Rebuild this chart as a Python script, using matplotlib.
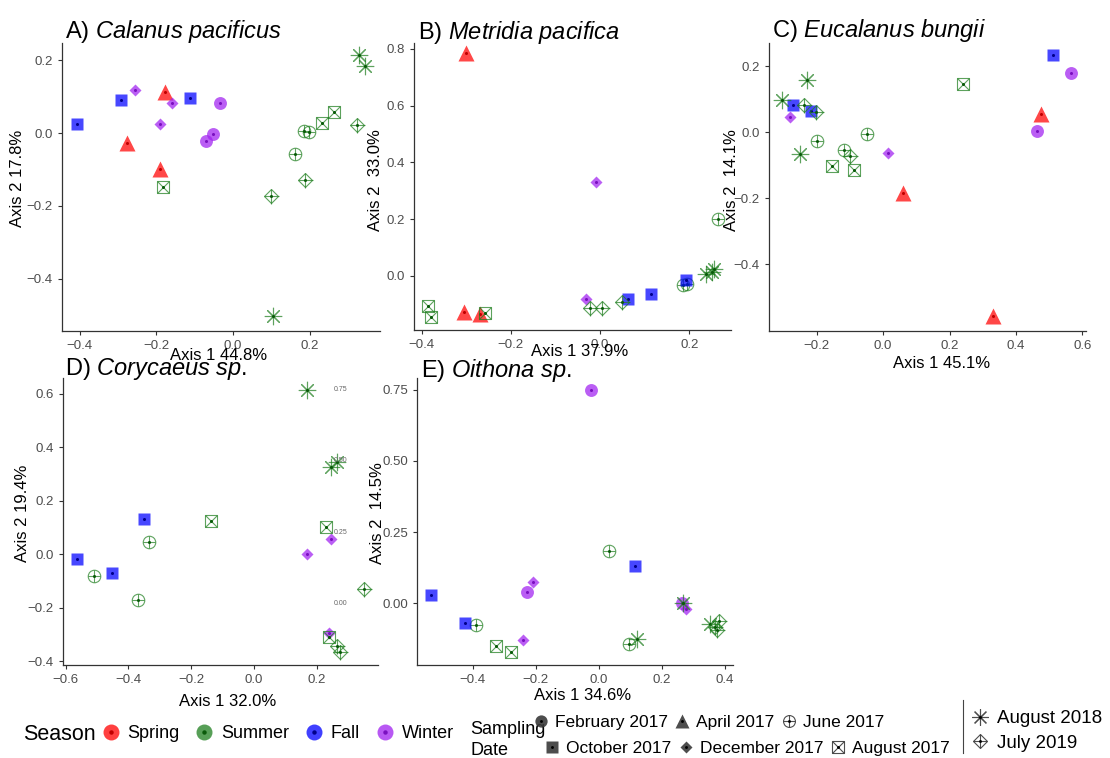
import matplotlib.pyplot as plt
from matplotlib.lines import Line2D

plt.rcParams['font.family'] = ['Liberation Sans', 'DejaVu Sans']
plt.rcParams['mathtext.fontset'] = 'custom'
plt.rcParams['mathtext.rm'] = 'Liberation Sans'
plt.rcParams['mathtext.it'] = 'Liberation Sans:italic'

W, H = 1110, 758

# sampling dates and the season each one belongs to
date_keys = ['Feb17', 'Apr17', 'Jun17', 'Oct17', 'Dec17', 'Aug17', 'Aug18', 'Jul19']
date_labels = ['February 2017', 'April 2017', 'June 2017', 'October 2017',
               'December 2017', 'August 2017', 'August 2018', 'July 2019']
date_season = ['Winter', 'Spring', 'Summer', 'Fall', 'Winter', 'Summer', 'Summer', 'Summer']
seasons = ['Spring', 'Summer', 'Fall', 'Winter']

# A) Calanus pacificus
calanus_x = [-0.407, -0.292, -0.113, -0.257, -0.159, -0.191, -0.178, -0.278, -0.190,
             -0.033, -0.052, -0.070, -0.183, 0.232, 0.263, 0.186, 0.198, 0.161,
             0.325, 0.188, 0.098, 0.329, 0.345, 0.104]
calanus_y = [0.026, 0.090, 0.096, 0.119, 0.084, 0.025, 0.112, -0.026, -0.099,
             0.084, -0.003, -0.021, -0.149, 0.027, 0.057, 0.005, 0.003, -0.057,
             0.023, -0.128, -0.172, 0.214, 0.186, -0.504]
calanus_date = ['Oct17'] * 3 + ['Dec17'] * 3 + ['Apr17'] * 3 + ['Feb17'] * 3 + \
               ['Aug17'] * 3 + ['Jun17'] * 3 + ['Jul19'] * 3 + ['Aug18'] * 3

# B) Metridia pacifica
metridia_x = [-0.301, -0.305, -0.269, -0.385, -0.380, -0.258, -0.010, -0.032,
              -0.022, 0.004, 0.050, 0.062, 0.115, 0.193, 0.264, 0.187, 0.196,
              0.238, 0.250, 0.256]
metridia_y = [0.786, -0.126, -0.134, -0.108, -0.146, -0.132, 0.332, -0.082,
              -0.114, -0.114, -0.094, -0.082, -0.065, -0.014, 0.200, -0.032, -0.029,
              0.007, 0.015, 0.024]
metridia_date = ['Apr17'] * 3 + ['Aug17'] * 3 + ['Dec17'] * 2 + ['Jul19'] * 3 + \
                ['Oct17'] * 3 + ['Jun17'] * 3 + ['Aug18'] * 3

# C) Eucalanus bungii
eucalanus_x = [0.511, -0.271, -0.218, 0.566, 0.464, 0.475, 0.060, 0.330,
               0.241, -0.155, -0.087, -0.231, -0.304, -0.251, -0.238, -0.203, -0.101,
               -0.281, 0.015, -0.198, -0.050, -0.119]
eucalanus_y = [0.234, 0.083, 0.066, 0.180, 0.005, 0.057, -0.184, -0.557,
               0.148, -0.103, -0.113, 0.160, 0.099, -0.065, 0.084, 0.061, -0.071,
               0.047, -0.061, -0.027, -0.004, -0.053]
eucalanus_date = ['Oct17'] * 3 + ['Feb17'] * 2 + ['Apr17'] * 3 + ['Aug17'] * 3 + \
                 ['Aug18'] * 3 + ['Jul19'] * 3 + ['Dec17'] * 2 + ['Jun17'] * 3

# D) Corycaeus sp.
corycaeus_x = [0.169, 0.245, 0.265, -0.350, -0.564, -0.452, -0.138, 0.229, 0.239,
               -0.334, -0.508, -0.370, 0.169, 0.244, 0.238, 0.350, 0.263, 0.273]
corycaeus_y = [0.612, 0.324, 0.343, 0.132, -0.019, -0.071, 0.125, 0.101, -0.308,
               0.045, -0.080, -0.171, 0.001, 0.056, -0.295, -0.131, -0.343, -0.364]
corycaeus_date = ['Aug18'] * 3 + ['Oct17'] * 3 + ['Aug17'] * 3 + ['Jun17'] * 3 + \
                 ['Dec17'] * 3 + ['Jul19'] * 3

# E) Oithona sp.
oithona_x = [-0.026, -0.227, 0.263, 0.033, -0.391, 0.096, 0.114, -0.532, -0.424,
             -0.209, -0.240, 0.276, -0.325, -0.278, 0.122, 0.268, 0.353,
             0.382, 0.369, 0.374]
oithona_y = [0.748, 0.041, 0.002, 0.182, -0.076, -0.143, 0.129, 0.029, -0.068,
             0.073, -0.129, -0.021, -0.152, -0.172, -0.125, 0.002, -0.073,
             -0.064, -0.084, -0.094]
oithona_date = ['Feb17'] * 3 + ['Jun17'] * 3 + ['Oct17'] * 3 + ['Dec17'] * 3 + \
               ['Aug17'] * 2 + ['Aug18'] * 3 + ['Jul19'] * 3

season_colors = {'Spring': '#ff0000', 'Summer': '#1f7f1f', 'Fall': '#0000ff', 'Winter': '#a020f0'}
dot_colors = {'Spring': '#c00000', 'Summer': '#0a5a0a', 'Fall': '#00008b', 'Winter': '#7a10c0'}

# marker, size, filled, inner marker, inner size
date_shapes = {
    'Feb17': ('o', 9.3, True, None, 0),
    'Apr17': ('^', 11, True, None, 0),
    'Jun17': ('o', 9, False, '+', 9),
    'Oct17': ('s', 9.3, True, None, 0),
    'Dec17': ('D', 6.4, True, None, 0),
    'Aug17': ('s', 9, False, 'x', 9),
    'Aug18': ((8, 2, 0), 12.5, False, None, 0),
    'Jul19': ('D', 7.6, False, '+', 10.8),
}


def px(x):
    return x / W


def py(y):
    return 1 - y / H


def shape_lines(key, color, dot, alpha=0.72, scale=1.0):
    m, ms, filled, inner, ims = date_shapes[key]
    parts = []
    if filled:
        parts.append(dict(marker=m, ms=ms * scale, mfc=color, mec='none', alpha=alpha))
    else:
        parts.append(dict(marker=m, ms=ms * scale, mfc='none', mec=color, mew=0.8, alpha=alpha))
    if inner:
        parts.append(dict(marker=inner, ms=ims * scale, mec=color, mew=0.8, alpha=alpha))
    parts.append(dict(marker='o', ms=2.2 * scale, mfc=dot, mec='none'))
    return parts


def draw_panel(ax, xs, ys, ds):
    for key, season in zip(date_keys, date_season):
        px_ = [x for x, d in zip(xs, ds) if d == key]
        py_ = [y for y, d in zip(ys, ds) if d == key]
        if not px_:
            continue
        for st in shape_lines(key, season_colors[season], dot_colors[season]):
            ax.plot(px_, py_, ls='none', **st)


fig = plt.figure(figsize=(W / 100, H / 100), dpi=100)

panels = [
    ('A', 'Calanus\\ pacificus', calanus_x, calanus_y, calanus_date,
     (62, 43, 380, 331), (-0.4465, 0.3838), (-0.544, 0.248),
     [-0.4, -0.2, 0.0, 0.2], [-0.4, -0.2, 0.0, 0.2], '%.1f',
     'Axis 1 44.8%', 'Axis 2 17.8%', (219, 355), (18, 178), (65, 38)),
    ('B', 'Metridia\\ pacifica', metridia_x, metridia_y, metridia_date,
     (414, 43, 731, 330), (-0.417, 0.2935), (-0.191, 0.821),
     [-0.4, -0.2, 0.0, 0.2], [0.0, 0.2, 0.4, 0.6, 0.8], '%.1f',
     'Axis 1 37.9%', 'Axis 2  33.0%', (580, 351), (375, 180), (418, 39)),
    ('C', 'Eucalanus\\ bungii', eucalanus_x, eucalanus_y, eucalanus_date,
     (769, 43, 1086, 331), (-0.344, 0.611), (-0.602, 0.271),
     [-0.2, 0.0, 0.2, 0.4, 0.6], [-0.4, -0.2, 0.0, 0.2], '%.1f',
     'Axis 1 45.1%', 'Axis 2  14.1%', (942, 363), (732, 180), (772, 37)),
    ('D', 'Corycaeus\\ sp.', corycaeus_x, corycaeus_y, corycaeus_date,
     (63, 378, 378, 665), (-0.608, 0.394), (-0.414, 0.658),
     [-0.6, -0.4, -0.2, 0.0, 0.2], [-0.4, -0.2, 0.0, 0.2, 0.4, 0.6], '%.1f',
     'Axis 1 32.0%', 'Axis 2 19.4%', (228, 701), (22, 513), (65, 375)),
    ('E', 'Oithona\\ sp.', oithona_x, oithona_y, oithona_date,
     (417, 378, 733, 665), (-0.577, 0.425), (-0.217, 0.791),
     [-0.4, -0.2, 0.0, 0.2, 0.4], [0.0, 0.25, 0.5, 0.75], '%.2f',
     'Axis 1 34.6%', 'Axis 2  14.5%', (583, 695), (378, 513), (421, 377)),
]

axes = {}
for (letter, species, xs, ys, ds, rect, xlim, ylim, xt, yt, yfmt,
     xlab, ylab, xlpos, ylpos, tpos) in panels:
    l, t, r, b = rect
    ax = fig.add_axes([px(l), py(b), (r - l) / W, (b - t) / H])
    draw_panel(ax, xs, ys, ds)
    ax.set_xlim(*xlim)
    ax.set_ylim(*ylim)
    ax.set_xticks(xt)
    ax.set_yticks(yt)
    ax.set_xticklabels([('%.1f' % v).replace('-', '\u2212') for v in xt])
    ax.set_yticklabels([(yfmt % v).replace('-', '\u2212') for v in yt])
    for s in ['top', 'right']:
        ax.spines[s].set_visible(False)
    for s in ['left', 'bottom']:
        ax.spines[s].set_color('#333333')
        ax.spines[s].set_linewidth(0.9)
    ax.tick_params(length=3, width=0.8, color='#333333', labelcolor='#4d4d4d', labelsize=9.5)
    ax.set_xlabel(xlab, fontsize=12, color='black')
    ax.set_ylabel(ylab, fontsize=12, color='black')
    ax.xaxis.set_label_coords((xlpos[0] - l) / (r - l), (b - xlpos[1]) / (b - t))
    ax.yaxis.set_label_coords((ylpos[0] - l) / (r - l), (b - ylpos[1]) / (b - t))
    ax.xaxis.label.set_va('center')
    ax.yaxis.label.set_va('center')
    fig.text(px(tpos[0]), py(tpos[1]), letter + ') $\\mathit{' + species + '}$',
             fontsize=17, va='baseline', ha='left')
    axes[letter] = ax

# faint copy of the E axis labels that shows through on panel D
axE = axes['E']
for v in axE.get_yticks():
    yd = axE.transData.transform((0, v))[1]
    fig.text(px(341), yd / H, '%.2f' % v, fontsize=5, color='#666666',
             ha='center', va='center')

# ---- legends ----
fig.text(px(23), py(734), 'Season', fontsize=15.5, va='center', ha='left')
season_handles = []
for s in seasons:
    season_handles.append((
        Line2D([], [], ls='none', marker='o', ms=11.5, mfc=season_colors[s], mec='none', alpha=0.75),
        Line2D([], [], ls='none', marker='o', ms=3.2, mfc=dot_colors[s], mec='none')))
fig.legend(season_handles, seasons, loc='center left', bbox_to_anchor=(px(103), py(734)),
           ncol=4, frameon=False, fontsize=13, handlelength=0.85, handletextpad=0.5,
           columnspacing=0.95, borderpad=0, borderaxespad=0)

fig.text(px(470), py(740), 'Sampling\nDate', fontsize=13, va='center', ha='left',
         linespacing=1.3)


def date_handle(key):
    return tuple(Line2D([], [], ls='none', **st)
                 for st in shape_lines(key, '#3a3a3a', 'black', alpha=0.9, scale=0.95))


row1 = ['Feb17', 'Apr17', 'Jun17']
row2 = ['Oct17', 'Dec17', 'Aug17']
for row, x0, y0 in [(row1, 533, 722), (row2, 544, 748)]:
    fig.legend([date_handle(k) for k in row],
               [date_labels[date_keys.index(k)] for k in row],
               loc='center left', bbox_to_anchor=(px(x0), py(y0)), ncol=3,
               frameon=False, fontsize=12.5, handlelength=0.9, handletextpad=0.35,
               columnspacing=0.4, borderpad=0, borderaxespad=0)

fig.add_artist(Line2D([px(963), px(963)], [py(700), py(753)], transform=fig.transFigure,
                      color='#444444', lw=0.8))

row3 = ['Aug18', 'Jul19']
fig.legend([date_handle(k) for k in row3],
           [date_labels[date_keys.index(k)] for k in row3],
           loc='center left', bbox_to_anchor=(px(971), py(731)), ncol=1,
           frameon=False, fontsize=13.5, handlelength=1.0, handletextpad=0.4,
           labelspacing=0.4, borderpad=0, borderaxespad=0)

fig.savefig('out.png', dpi=100)
